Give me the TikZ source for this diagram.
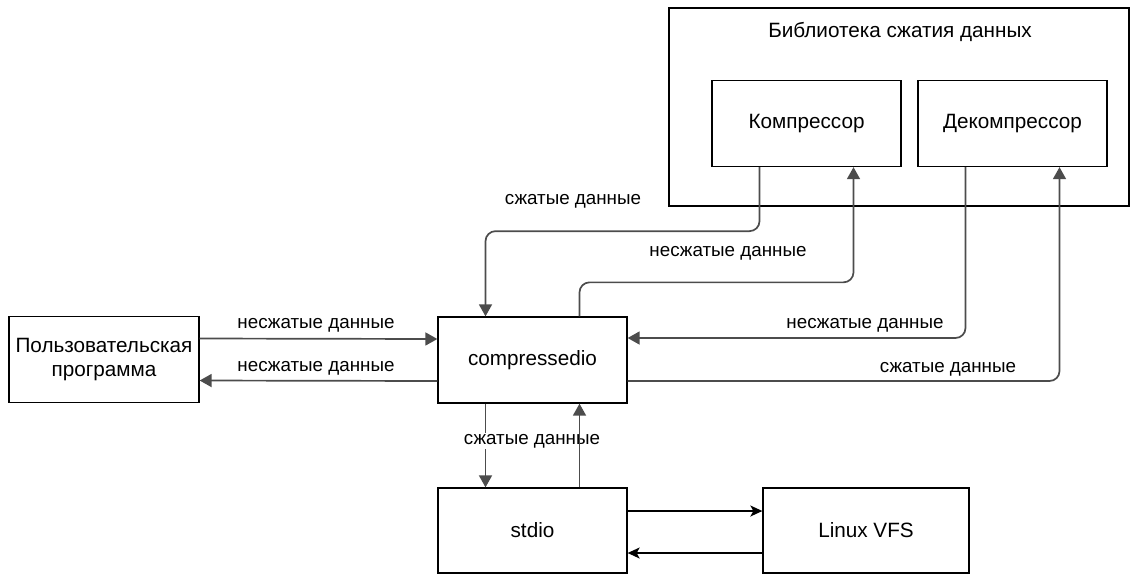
\documentclass[tikz,border=0pt]{standalone}
\usepackage{fontspec}
\setmainfont{Liberation Sans}
\usetikzlibrary{arrows.meta,positioning}
\tikzstyle{l2}=[line width=1.3pt]
\tikzstyle{box}=[rectangle, draw=black, l2, minimum width=189pt, minimum height=86pt, inner sep=0pt, align=center, font=\fontsize{20.7}{24}\selectfont]
\tikzstyle{lbl}=[inner sep=1pt, font=\fontsize{18.8}{22}\selectfont]
\tikzstyle{conn}=[line width=1.7pt, draw=black!70, -{Triangle[length=12pt,width=13pt]}, rounded corners=10pt]
\tikzstyle{vconn}=[line width=1.5pt, -{Stealth[length=12pt,width=11pt,inset=3pt]}]

\begin{document}
\begin{tikzpicture}[x=1pt, y=-1pt]
    \useasboundingbox (0,0) rectangle (1131,574);

    % library
    \node[box, minimum width=460pt, minimum height=198pt] at (899,107) (lib) {};
    \node[font=\fontsize{20.7}{24}\selectfont] at (900,32) (libt) {Библиотека сжатия данных};
    \node[box] at (806.5,123.5) (comp) {Компрессор};
    \node[box] at (1012.5,123.5) (decomp) {Декомпрессор};

    % main boxes
    \node[box, minimum width=190pt] at (104,359.5) (user) {Пользовательская\\программа};
    \node[box] at (532.5,360) (cio) {compressedio};
    \node[box, minimum height=85pt] at (532.5,530.5) (stdio) {stdio};
    \node[box, minimum width=206pt, minimum height=85pt] at (866,530.5) (vfs) {Linux VFS};

    % user <-> compressedio
    \draw[conn] ([yshift=21pt]user.east) -- ([yshift=21pt]cio.west);
    \draw[conn] ([yshift=-21pt]cio.west) -- ([yshift=-21pt]user.east);
    \node[lbl] at (316,325) (l1) {несжатые данные};
    \node[lbl] at (316,368) (l2) {несжатые данные};

    % compressedio <-> library
    \draw[conn] ([xshift=-47pt]comp.south) -- ++(0,64) -| ([xshift=-47pt]cio.north);
    \draw[conn] ([xshift=47pt]cio.north) -- ++(0,-34) -| ([xshift=47pt]comp.south);
    \draw[conn] ([xshift=-47pt]decomp.south) |- ([yshift=22pt]cio.east);
    \draw[conn] ([yshift=-21pt]cio.east) -| ([xshift=47pt]decomp.south);
    \node[lbl] at (573,201) (l3) {сжатые данные};
    \node[lbl] at (728,253) (l4) {несжатые данные};
    \node[lbl] at (865,325) (l5) {несжатые данные};
    \node[lbl] at (948,369) (l6) {сжатые данные};

    % compressedio <-> stdio
    \draw[conn] ([xshift=-47pt]cio.south) -- ([xshift=-47pt]stdio.north);
    \node[lbl, fill=white] at (532,441) (l7) {сжатые данные};
    \draw[conn] ([xshift=47pt]stdio.north) -- ([xshift=47pt]cio.south);

    % stdio <-> vfs
    \draw[vconn] ([yshift=19.5pt]stdio.east) -- ([yshift=19.5pt]vfs.west);
    \draw[vconn] ([yshift=-22.5pt]vfs.west) -- ([yshift=-22.5pt]stdio.east);
\end{tikzpicture}
\end{document}
